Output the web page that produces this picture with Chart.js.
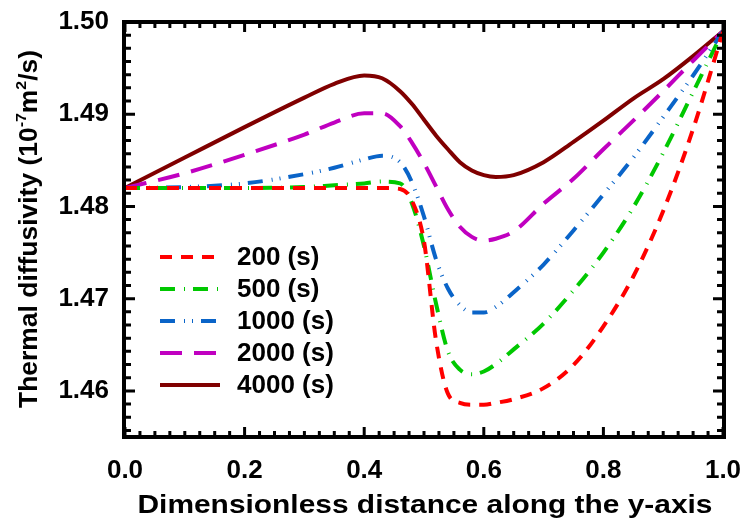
<!DOCTYPE html>
<html>
<head>
<meta charset="utf-8">
<script src="https://cdn.jsdelivr.net/npm/chart.js@4.4.1/dist/chart.umd.min.js"></script>
<style>
  html, body { margin: 0; padding: 0; background: #fff; }
  #wrap { width: 742px; height: 530px; }
</style>
</head>
<body>
<div id="wrap"><canvas id="diffChart" width="742" height="530"></canvas></div>
<script>
// dimensionless distance along y (shared by all curves)
const xValues = [0, 0.1, 0.2, 0.3, 0.35, 0.4, 0.43, 0.46, 0.48, 0.5, 0.52, 0.54, 0.56, 0.58, 0.6, 0.62, 0.65, 0.7, 0.75, 0.8, 0.85, 0.9, 0.95, 1.0];

// thermal diffusivity (1e-7 m2/s) for each time
const t200  = [1.4820, 1.4820, 1.4820, 1.4820, 1.4820, 1.4820, 1.4820, 1.4819, 1.4806, 1.4762, 1.4655, 1.4597, 1.4587, 1.4585, 1.4585, 1.4587, 1.4591, 1.4603, 1.4628, 1.4670, 1.4724, 1.4795, 1.4884, 1.4990];
const t500  = [1.4820, 1.4820, 1.4820, 1.4821, 1.4823, 1.4825, 1.4827, 1.4825, 1.4803, 1.4757, 1.4695, 1.4643, 1.4623, 1.4618, 1.4621, 1.4629, 1.4645, 1.4673, 1.4709, 1.4750, 1.4799, 1.4858, 1.4924, 1.4990];
const t1000 = [1.4820, 1.4821, 1.4825, 1.4835, 1.4842, 1.4851, 1.4855, 1.4848, 1.4826, 1.4789, 1.4743, 1.4711, 1.4693, 1.4685, 1.4685, 1.4691, 1.4707, 1.4737, 1.4774, 1.4813, 1.4853, 1.4897, 1.4942, 1.4990];
const t2000 = [1.4820, 1.4836, 1.4856, 1.4878, 1.4891, 1.4901, 1.4901, 1.4887, 1.4869, 1.4847, 1.4822, 1.4797, 1.4778, 1.4767, 1.4763, 1.4765, 1.4773, 1.4803, 1.4830, 1.4862, 1.4893, 1.4925, 1.4958, 1.4990];
const t4000 = [1.4820, 1.4853, 1.4886, 1.4918, 1.4933, 1.4942, 1.4939, 1.4925, 1.4911, 1.4894, 1.4877, 1.4862, 1.4848, 1.4839, 1.4834, 1.4832, 1.4834, 1.4848, 1.4870, 1.4893, 1.4917, 1.4938, 1.4963, 1.4990];

const seriesLabels = ["200 (s)", "500 (s)", "1000 (s)", "2000 (s)", "4000 (s)"];
const xTicks = [0, 0.2, 0.4, 0.6, 0.8, 1.0];
const yTicks = [1.46, 1.47, 1.48, 1.49, 1.50];

const FONT = "'Liberation Sans', Arial, sans-serif";

const styles = [
  { color: "#ff0000", dash: [12, 9] },
  { color: "#00c800", dash: [15, 9, 1, 8] },
  { color: "#0a64c8", dash: [15, 9, 1, 7, 1, 8] },
  { color: "#c000c0", dash: [22, 12] },
  { color: "#800000", dash: [] },
];
const allSeries = [t200, t500, t1000, t2000, t4000];

const datasets = allSeries.map((vals, i) => ({
  label: seriesLabels[i],
  data: xValues.map((x, j) => ({ x: x, y: vals[j] })),
  borderColor: styles[i].color,
  borderDash: styles[i].dash,
  borderWidth: 4,
  pointRadius: 0,
  fill: false,
  cubicInterpolationMode: "monotone",
}));

// draw text stretched to a given width (the original uses a wide bold face)
function stretchedText(ctx, parts, cx, cy, targetW) {
  let total = 0;
  parts.forEach(p => { ctx.font = p.f; p.w = ctx.measureText(p.t).width; total += p.w; });
  const sx = targetW / total;
  ctx.save();
  ctx.translate(cx, cy);
  ctx.scale(sx, 1);
  let x = -total / 2;
  parts.forEach(p => { ctx.font = p.f; ctx.fillText(p.t, x, p.dy); x += p.w; });
  ctx.restore();
}

// frame with inward ticks on all four sides, axis titles and legend
const framePlugin = {
  id: "frame",
  afterDraw(chart) {
    const ctx = chart.ctx;
    const a = chart.chartArea;
    const xs = chart.scales.x, ys = chart.scales.y;
    ctx.save();
    ctx.strokeStyle = "#000";
    ctx.lineCap = "butt";

    ctx.lineWidth = 3;
    for (let k = 0; k <= 40; k++) {
      const px = xs.getPixelForValue(k * 0.025);
      const len = k % 8 === 0 ? 10 : 6;
      ctx.beginPath();
      ctx.moveTo(px, a.bottom); ctx.lineTo(px, a.bottom - len);
      ctx.moveTo(px, a.top); ctx.lineTo(px, a.top + len);
      ctx.stroke();
    }
    const step = 0.01 / 7;
    for (let k = 0; ; k++) {
      const v = 1.50 - k * step;
      if (v < ys.min) break;
      const py = ys.getPixelForValue(v);
      const len = k % 7 === 0 ? 10 : 6;
      ctx.beginPath();
      ctx.moveTo(a.left, py); ctx.lineTo(a.left + len, py);
      ctx.moveTo(a.right, py); ctx.lineTo(a.right - len, py);
      ctx.stroke();
    }

    ctx.lineWidth = 4;
    ctx.strokeRect(a.left - 1, a.top, a.right - a.left + 2, a.bottom - a.top);

    ctx.fillStyle = "#000";
    ctx.textBaseline = "middle";
    ctx.textAlign = "left";

    // x title
    stretchedText(ctx, [{ t: "Dimensionless distance along the y-axis", f: "bold 25px " + FONT, dy: 0 }], 425, 506, 575);

    // y title with superscripts
    ctx.save();
    ctx.translate(30, 229);
    ctx.rotate(-Math.PI / 2);
    const big = "bold 25px " + FONT, small = "bold 15px " + FONT;
    stretchedText(ctx, [
      { t: "Thermal diffusivity (10", f: big, dy: 0 },
      { t: "-7", f: small, dy: -8 },
      { t: "m", f: big, dy: 0 },
      { t: "2", f: small, dy: -8 },
      { t: "/s)", f: big, dy: 0 },
    ], 0, 0, 358);
    ctx.restore();
    ctx.restore();

    // legend inside plot
    ctx.save();
    ctx.font = "bold 26px " + FONT;
    ctx.textBaseline = "middle";
    ctx.fillStyle = "#000";
    const rows = [257, 289, 321, 353, 385];
    chart.data.datasets.forEach((ds, i) => {
      const y = rows[i];
      ctx.strokeStyle = ds.borderColor;
      ctx.lineWidth = 4;
      ctx.setLineDash(ds.borderDash);
      ctx.beginPath();
      ctx.moveTo(160, y); ctx.lineTo(220, y);
      ctx.stroke();
      ctx.setLineDash([]);
      ctx.fillText(ds.label, 237, y + 1);
    });
    ctx.restore();
  },
};

new Chart(document.getElementById("diffChart"), {
  type: "line",
  data: { datasets: datasets },
  options: {
    responsive: false,
    animation: false,
    layout: { padding: { top: 22, right: 19, left: 0, bottom: 0 } },
    plugins: { legend: { display: false }, tooltip: { enabled: false } },
    scales: {
      x: {
        type: "linear",
        min: 0,
        max: 1,
        afterFit(s) { s.height = 93; s.paddingLeft = 0; s.paddingRight = 0; },
        afterBuildTicks(s) { s.ticks = xTicks.map(v => ({ value: v })); },
        grid: { display: false, drawTicks: false },
        border: { display: false },
        ticks: {
          padding: 18,
          color: "#000",
          font: { family: FONT, size: 26, weight: "bold" },
          callback: v => v.toFixed(1),
        },
      },
      y: {
        min: 1.455,
        max: 1.50,
        afterFit(s) { s.width = 125; s.paddingTop = 0; s.paddingBottom = 0; },
        afterBuildTicks(s) { s.ticks = yTicks.map(v => ({ value: v })); },
        grid: { display: false, drawTicks: false },
        border: { display: false },
        ticks: {
          padding: 16,
          color: "#000",
          font: { family: FONT, size: 26, weight: "bold" },
          callback: v => v.toFixed(2),
        },
      },
    },
  },
  plugins: [framePlugin],
});
</script>
</body>
</html>
